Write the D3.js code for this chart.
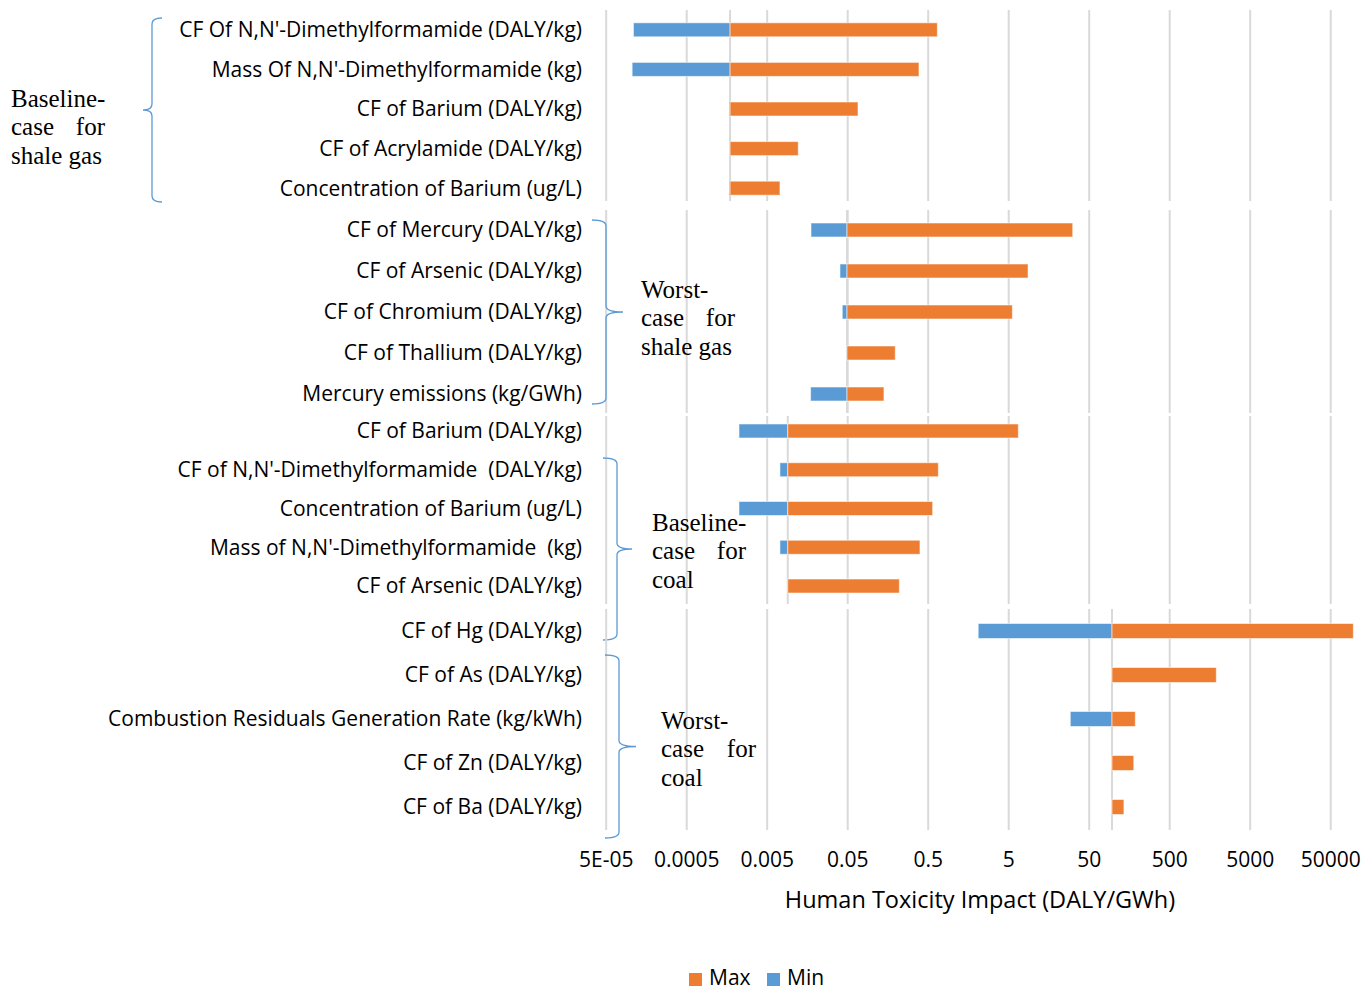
<!DOCTYPE html>
<html>
<head>
<meta charset="utf-8">
<script src="https://cdn.jsdelivr.net/npm/d3@7"></script>
<style>
  html, body { margin: 0; padding: 0; background: #fff; }
  svg { display: block; }
  .lbl { white-space: pre; }
</style>
</head>
<body>
<svg id="chart" width="1364" height="990"></svg>
<script>
// ---------------- DATA ----------------
const groupNames = [
  ["Baseline-", "case", "for", "shale gas"],
  ["Worst-", "case", "for", "shale gas"],
  ["Baseline-", "case", "for", "coal"],
  ["Worst-", "case", "for", "coal"]
];

const categories1 = [
  "CF Of N,N'-Dimethylformamide (DALY/kg)",
  "Mass Of N,N'-Dimethylformamide (kg)",
  "CF of Barium (DALY/kg)",
  "CF of Acrylamide (DALY/kg)",
  "Concentration of Barium (ug/L)"
];
const base1 = 0.00173;
const min1 = [0.000109, 0.000105, 0.00168, null, 0.00168];
const max1 = [0.649, 0.384, 0.0671, 0.01216, 0.0072];

const categories2 = [
  "CF of Mercury (DALY/kg)",
  "CF of Arsenic (DALY/kg)",
  "CF of Chromium (DALY/kg)",
  "CF of Thallium (DALY/kg)",
  "Mercury emissions (kg/GWh)"
];
const base2 = 0.049;
const min2 = [0.0175, 0.0401, 0.0428, null, 0.0173];
const max2 = [31.2, 8.69, 5.55, 0.195, 0.141];

const categories3 = [
  "CF of Barium (DALY/kg)",
  "CF of N,N'-Dimethylformamide  (DALY/kg)",
  "Concentration of Barium (ug/L)",
  "Mass of N,N'-Dimethylformamide  (kg)",
  "CF of Arsenic (DALY/kg)"
];
const base3 = 0.009;
const min3 = [0.00223, 0.0072, 0.00223, 0.0072, null];
const max3 = [6.58, 0.668, 0.568, 0.395, 0.219];

const categories4 = [
  "CF of Hg (DALY/kg)",
  "CF of As (DALY/kg)",
  "Combustion Residuals Generation Rate (kg/kWh)",
  "CF of Zn (DALY/kg)",
  "CF of Ba (DALY/kg)"
];
const base4 = 96;
const min4 = [2.09, null, 29.1, null, null];
const max4 = [95500, 1896, 187, 179, 135];

const tickValues = [5e-5, 5e-4, 5e-3, 0.05, 0.5, 5, 50, 500, 5000, 50000];
const tickLabels = ["5E-05", "0.0005", "0.005", "0.05", "0.5", "5", "50", "500", "5000", "50000"];
const seriesNames = ["Max", "Min"];
const axisTitle = "Human Toxicity Impact (DALY/GWh)";

// ---------------- LAYOUT ----------------
const COLORS = { Max: "#ED7D31", Min: "#5B9BD5" };
const GRID = "#d9d9d9";
const SANS = "'Open Sans', 'Noto Sans', sans-serif";
const SERIF = "'Liberation Serif', 'DejaVu Serif', serif";

const panels = [
  { cats: categories1, base: base1, mins: min1, maxs: max1,
    band: [10, 208], grid: [10, 201], barH: 14,
    brace: { x: 152, tip: 162, point: 143, top: 18, bottom: 202 },
    label: { x: 11, right: 105, y: 98 } },
  { cats: categories2, base: base2, mins: min2, maxs: max2,
    band: [209.5, 414.5], grid: [210, 413], barH: 14,
    brace: { x: 606, tip: 592, point: 623, top: 220, bottom: 404 },
    label: { x: 641, right: 735, y: 289 } },
  { cats: categories3, base: base3, mins: min3, maxs: max3,
    band: [411.6, 605.4], grid: [416, 604], barH: 14,
    brace: { x: 617, tip: 603, point: 632, top: 458, bottom: 640 },
    label: { x: 652, right: 746, y: 522 } },
  { cats: categories4, base: base4, mins: min4, maxs: max4,
    band: [609, 829], grid: [609, 830], barH: 15,
    brace: { x: 619, tip: 605, point: 636, top: 655, bottom: 838 },
    label: { x: 661, right: 756, y: 720 } }
];

const svg = d3.select("#chart");
const x = d3.scaleLog().domain([5e-5, 5e5]).range([606.2, 1411.2]);

// fit category label font size (Calibri-like width)
const probe = svg.append("text").attr("font-family", SANS).attr("font-size", 20)
  .text(categories1[0]);
const w20 = probe.node().getComputedTextLength();
probe.remove();
const catFont = Math.min(21, 20 * 404 / w20);

panels.forEach((p, gi) => {
  const g = svg.append("g");
  const y = d3.scaleBand().domain(p.cats).range(p.band).paddingInner(0).paddingOuter(0);

  // gridlines
  g.selectAll(".grid").data(tickValues).join("line")
    .attr("x1", d => x(d)).attr("x2", d => x(d))
    .attr("y1", p.grid[0]).attr("y2", p.grid[1])
    .attr("stroke", GRID).attr("stroke-width", 2);
  // category axis line at base
  g.append("line")
    .attr("x1", x(p.base)).attr("x2", x(p.base))
    .attr("y1", p.grid[0]).attr("y2", p.grid[1])
    .attr("stroke", GRID).attr("stroke-width", 2);

  const rows = p.cats.map((c, i) => ({ c, min: p.mins[i], max: p.maxs[i] }));
  // min bars
  g.selectAll(".minbar").data(rows.filter(r => r.min != null)).join("rect")
    .attr("x", r => x(r.min))
    .attr("width", r => Math.max(1, x(p.base) - x(r.min)))
    .attr("y", r => y(r.c) + y.bandwidth() / 2 - p.barH / 2)
    .attr("height", p.barH)
    .attr("fill", COLORS.Min).attr("stroke", "#fff").attr("stroke-opacity", 0.55).attr("stroke-width", 1);
  // max bars
  g.selectAll(".maxbar").data(rows.filter(r => r.max != null)).join("rect")
    .attr("x", x(p.base))
    .attr("width", r => x(r.max) - x(p.base))
    .attr("y", r => y(r.c) + y.bandwidth() / 2 - p.barH / 2)
    .attr("height", p.barH)
    .attr("fill", COLORS.Max).attr("stroke", "#fff").attr("stroke-opacity", 0.55).attr("stroke-width", 1);

  // category labels
  g.selectAll(".lbl").data(p.cats).join("text")
    .attr("class", "lbl")
    .attr("x", 582).attr("y", d => y(d) + y.bandwidth() / 2)
    .attr("dy", "0.35em").attr("text-anchor", "end")
    .attr("font-family", SANS).attr("font-size", catFont).attr("fill", "#000")
    .text(d => d);

  // brace
  const b = p.brace, mid = (b.top + b.bottom) / 2, r = 6;
  const path = `M${b.tip},${b.top} Q${b.x},${b.top} ${b.x},${b.top + r} L${b.x},${mid - r} Q${b.x},${mid} ${b.point},${mid} Q${b.x},${mid} ${b.x},${mid + r} L${b.x},${b.bottom - r} Q${b.x},${b.bottom} ${b.tip},${b.bottom}`;
  g.append("path").attr("d", path).attr("fill", "none")
    .attr("stroke", COLORS.Min).attr("stroke-width", 1.3);

  // group label (justified-looking)
  const nm = groupNames[gi], L = p.label;
  const t = (txt, xx, yy, anchor) => g.append("text").attr("x", xx).attr("y", yy)
    .attr("dy", "0.35em").attr("text-anchor", anchor)
    .attr("font-family", SERIF).attr("font-size", 25).attr("fill", "#000").text(txt);
  t(nm[0], L.x, L.y, "start");
  t(nm[1], L.x, L.y + 28.5, "start");
  t(nm[2], L.right, L.y + 28.5, "end");
  t(nm[3], L.x, L.y + 57, "start");
});

// x-axis tick labels
svg.append("g").selectAll("text").data(tickValues).join("text")
  .attr("x", d => x(d)).attr("y", 860).attr("dy", "0.35em")
  .attr("text-anchor", "middle").attr("font-family", SANS).attr("font-size", catFont)
  .attr("fill", "#000").text((d, i) => tickLabels[i]);

// axis title
svg.append("text").attr("x", 980).attr("y", 900).attr("dy", "0.35em")
  .attr("text-anchor", "middle").attr("font-family", SANS).attr("font-size", catFont + 2.5)
  .attr("fill", "#000").text(axisTitle);

// legend
const leg = svg.append("g");
const legX = [689, 767];
seriesNames.forEach((s, i) => {
  leg.append("rect").attr("x", legX[i]).attr("y", 973).attr("width", 13).attr("height", 13)
    .attr("fill", COLORS[s]);
  leg.append("text").attr("x", legX[i] + 20).attr("y", 978).attr("dy", "0.35em")
    .attr("font-family", SANS).attr("font-size", catFont).attr("fill", "#000").text(s);
});
</script>
</body>
</html>
